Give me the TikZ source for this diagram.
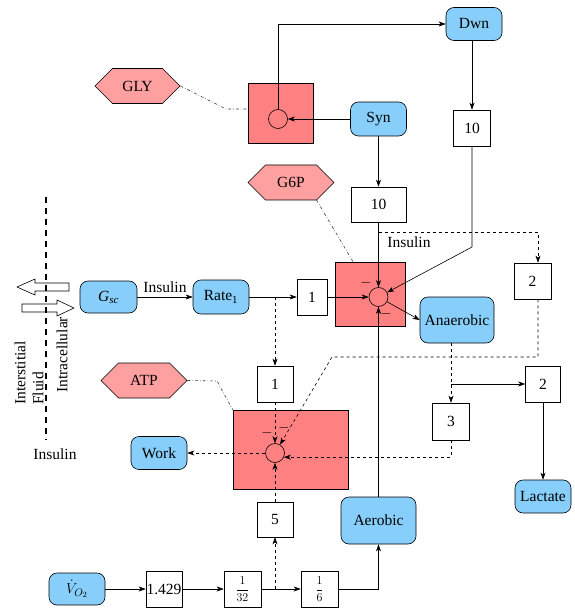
\documentclass[tikz,border=0pt]{standalone}
\usepackage{fontspec}
\setmainfont{Liberation Serif}
\usetikzlibrary{arrows.meta,shapes.symbols}
\definecolor{bluec}{RGB}{135,206,250}
\definecolor{poolc}{RGB}{255,128,128}
\definecolor{hexc}{RGB}{255,160,160}
\begin{document}
\begin{tikzpicture}[x=1pt,y=-1pt,line width=0.6pt,
  font=\rmfamily\fontsize{15.5}{18}\selectfont,
  arr/.style={-{Stealth[length=7pt,width=5pt,inset=2pt]}},
  numbox/.style={draw, fill=white, inner sep=0pt},
  bluebox/.style={draw, fill=bluec, rounded corners=8pt, inner sep=0pt},
  pool/.style={draw, fill=poolc, inner sep=0pt},
  hexa/.style={draw, fill=hexc, shape=signal, signal to=west and east, inner sep=0pt},
  pt/.style={circle, draw, inner sep=0pt, minimum size=19pt},
  dd/.style={dash dot, draw=black!75},
  mn/.style={inner sep=0pt},
  fr/.style={font=\rmfamily\fontsize{13}{15}\selectfont},
  sz/.style 2 args={minimum width=#1pt, minimum height=#2pt}]
\useasboundingbox (0,0) rectangle (574,612);

% nodes
\node[hexa, sz={85}{35}] (gly) at (137.5,86) {GLY};
\node[pool, sz={65}{60}] (glybox) at (280.5,113) {};
\node[pt] (c1) at (278,119) {};
\node[bluebox, sz={56}{33}] (dwn) at (474,24) {Dwn};
\node[bluebox, sz={56}{34}] (syn) at (378.5,119) {Syn};
\node[numbox, sz={37}{36}] (b10r) at (472,128) {10};
\node[numbox, sz={55}{35}] (b10m) at (378.5,204.5) {10};
\node[hexa, sz={86}{35}] (g6p) at (291,182.5) {G6P};
\node[pool, sz={70}{64}] (g6pbox) at (370,294) {};
\node[pt] (c2) at (378.5,297) {};
\node[numbox, sz={30}{36}] (b1a) at (312,297) {1};
\node[numbox, sz={37}{36}] (b2u) at (532.5,281) {2};
\node[bluebox, sz={74}{46}] (anaer) at (457,320) {Anaerobic};
\node[bluebox, sz={57}{32}] (gsc) at (108.5,297) {\textit{G}\textsubscript{\textit{sc}}};
\node[bluebox, sz={56}{34}] (rate) at (221,297) {Rate\textsubscript{1}};
\node[hexa, sz={86}{35}] (atp) at (144,380.5) {ATP};
\node[pool, sz={115}{79}] (atpbox) at (290.5,449.5) {};
\node[pt] (c3) at (275,453) {};
\node[numbox, sz={36}{36}] (b1b) at (275,384) {1};
\node[bluebox, sz={56}{33}] (work) at (159,453) {Work};
\node[numbox, sz={37}{37}] (b3) at (451,421.5) {3};
\node[numbox, sz={35}{36}] (b2l) at (543,384) {2};
\node[bluebox, sz={56}{33}] (lact) at (543,496.5) {Lactate};
\node[bluebox, sz={75}{47}] (aer) at (378.5,520.5) {Aerobic};
\node[numbox, sz={36}{35}] (b5) at (275,519.5) {5};
\node[bluebox, sz={56}{32}] (vo2) at (77,589) {$\dot{V}_{O_2}$};
\node[numbox, sz={36}{36}] (b1429) at (164,589) {1.429};
\node[numbox, fr, sz={37}{36}] (b132) at (242.5,589) {$\displaystyle\frac{1}{32}$};
\node[numbox, fr, sz={37}{36}] (b16) at (319.5,589) {$\displaystyle\frac{1}{6}$};

% connectors
\draw[arr] (c1.north) |- (dwn.west);
\draw[arr] (syn.west) -- (c1.east);
\draw[dd] (gly.east) -- (226,109) -- (glybox.west |- 0,109);
\draw[arr] (b10r.north |- dwn.south) -- (b10r.north);
\draw[arr] (syn.south) -- (b10m.north);
\draw[arr] (b10m.south) -- (c2.north);
\draw[dd] ([shift={(25.5,17.5)}]g6p.center) -- (g6pbox.north -| 353,0);
\draw[arr] (b10r.south) -- (472,247) -- (c2);
\draw[dashed,arr] (378.5,232) -| ([xshift=5.5pt]b2u.north);
\node[mn] (ins2) at (409,242) {Insulin};
\draw[dashed,arr] ([xshift=5.5pt]b2u.south) -- (538,357) -- (332,357) -- (c3);
\draw[arr] (b1a.east) -- (c2.west);
\draw[arr] (c2) -- (anaer.west);
\draw[arr] (aer.north) -- (c2.south);
\draw[dashed,arr] (b3.north |- anaer.south) -- (b3.north);
\draw[arr] (451,384) -- (b2l.west);
\draw[dashed,arr] (b3.south) |- (c3.-25);
\draw[arr] (b2l.south) -- (lact.north);
\draw[arr] (gsc.east) -- (rate.west);
\node[mn] (ins1) at (165,287) {Insulin};
\draw[arr] (rate.east) -- (b1a.west);
\draw[dashed,arr] (275,297) -- (b1b.north);
\draw[dashed,arr] (b1b.south) -- (c3.north);
\draw[dashed,arr] (c3.west) -- (work.east);
\draw[dashed,arr] (b5.north) -- (c3.south);
\draw[dashed,arr] (275,589) -- (b5.south);
\draw[arr] (vo2.east) -- (b1429.west);
\draw[arr] (b1429.east) -- (b132.west);
\draw[arr] (b132.east) -- (b16.west);
\draw[arr] (b16.east) -| (aer.south);
\draw[dd] (atp.east) -- (217,381) -- (atpbox.north west);

% minus signs
\node[mn] (m1) at (366,283) {$-$};
\node[mn] (m2) at (386,314) {$-$};
\node[mn] (m3) at (267,433) {$-$};
\node[mn] (m4) at (284,428) {$-$};

% membrane
\draw (17,287) -- (35,279) -- (35,283) -- (69,283) -- (69,291) -- (35,291) -- (35,295) -- cycle;
\draw (74,308) -- (57,300) -- (57,304) -- (22,304) -- (22,312) -- (57,312) -- (57,316) -- cycle;
\draw[line width=1.3pt, dash pattern=on 6pt off 5pt] (46,197) -- (46,440);
\node[mn, rotate=90, anchor=west] (t1) at (20,405) {Interstitial};
\node[mn, rotate=90, anchor=west] (t2) at (38,405) {Fluid};
\node[mn, rotate=90, anchor=west] (t3) at (62,393) {Intracellular};
\node[mn] (ins3) at (55,454) {Insulin};
\end{tikzpicture}
\end{document}
